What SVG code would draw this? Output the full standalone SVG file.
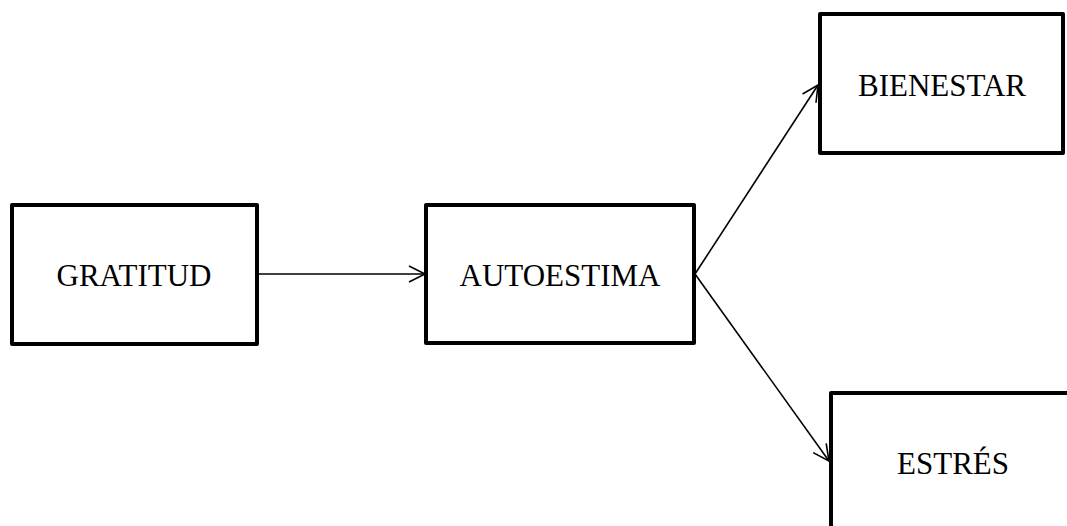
<svg xmlns="http://www.w3.org/2000/svg" width="1067" height="526" viewBox="0 0 1067 526">
<style>
.box{fill:#fff;stroke:#000;stroke-width:4;stroke-linejoin:round}
.lbl{font-family:"Liberation Serif","Times New Roman",serif;font-size:31px;fill:#000;text-anchor:middle}
.edge{stroke:#000;stroke-width:1.6;fill:none}
</style>
<defs>
<marker id="arr" markerUnits="userSpaceOnUse" markerWidth="20" markerHeight="20" viewBox="0 0 20 20" refX="18" refY="10" orient="auto">
<path d="M2,2 L18,10 L2,18" fill="none" stroke="#000" stroke-width="1.6"/>
</marker>
</defs>
<rect width="1067" height="526" fill="#fff"/>
<g id="connectors">
<line class="edge" x1="257" y1="274" x2="425" y2="274" marker-end="url(#arr)"/>
<line class="edge" x1="695" y1="274" x2="818" y2="85" marker-end="url(#arr)"/>
<line class="edge" x1="695" y1="274" x2="829" y2="461" marker-end="url(#arr)"/>
</g>
<g id="gratitud">
<rect class="box" x="12" y="205" width="245" height="139"/>
<text class="lbl" x="134" y="286">GRATITUD</text>
</g>
<g id="autoestima">
<rect class="box" x="426" y="205" width="268" height="138"/>
<text class="lbl" x="560" y="286">AUTOESTIMA</text>
</g>
<g id="bienestar">
<rect class="box" x="820" y="14" width="243" height="139"/>
<text class="lbl" x="942" y="96">BIENESTAR</text>
</g>
<g id="estres">
<rect class="box" x="831" y="393" width="260" height="160"/>
<text class="lbl" x="953" y="474">ESTRÉS</text>
</g>
</svg>
